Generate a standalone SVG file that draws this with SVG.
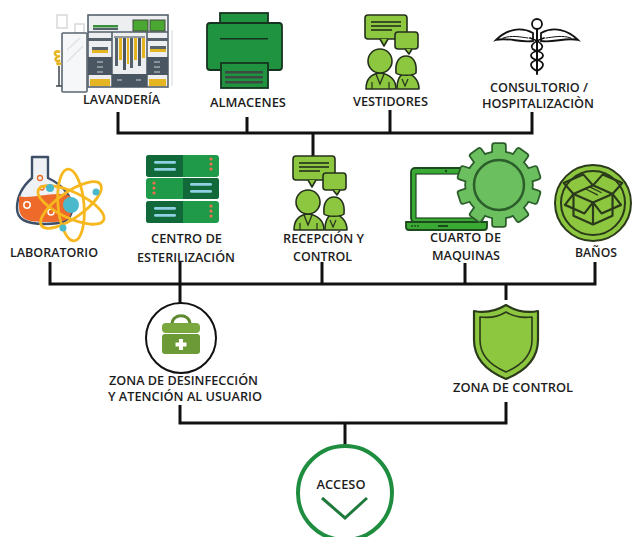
<svg xmlns="http://www.w3.org/2000/svg" xmlns:xlink="http://www.w3.org/1999/xlink" width="634" height="537" viewBox="0 0 634 537">
  <style>
    .lbl { font-family: "Open Sans", "Liberation Sans", sans-serif; font-weight: 600; font-size: 12.5px; fill: #1c1c1c; text-anchor: middle; }
    .wire { fill: none; stroke: #111; stroke-width: 3; stroke-linecap: butt; stroke-linejoin: miter; }
    .ink { stroke: #24301c; stroke-width: 1.6; stroke-linejoin: round; }
    .lime { fill: #8dc63f; }
  </style>
  <defs>
    <!-- two people with speech bubbles -->
    <g id="talk">
      <rect x="365" y="15" width="42" height="24" rx="3" class="lime ink"/>
      <path d="M380,39 L384,46 L388,39" class="lime ink"/>
      <line x1="371" y1="22" x2="401" y2="22" stroke="#24301c" stroke-width="1.6"/>
      <line x1="371" y1="26" x2="401" y2="26" stroke="#24301c" stroke-width="1.6"/>
      <line x1="371" y1="30" x2="392" y2="30" stroke="#24301c" stroke-width="1.6"/>
      <rect x="395" y="32" width="23" height="17" rx="3" class="lime ink"/>
      <path d="M405,49 L409,54 L412,49" class="lime ink"/>
      <!-- woman -->
      <path d="M397,89 C397,80 399,74 406,73 C413,74 419,80 419,89 Z" class="lime ink"/>
      <path d="M396,73 C395,62 399,56 406,56 C413,56 417,62 416,73 C413,76 399,76 396,73 Z" class="lime ink"/>
      <path d="M402,79 L405,86 L408,79" fill="none" stroke="#24301c" stroke-width="1.2"/>
      <!-- man -->
      <path d="M366,89 C366,80 370,74 380,73 C390,74 396,80 396,89 Z" class="lime ink"/>
      <circle cx="380" cy="61" r="12" class="lime ink"/>
      <path d="M376,74 L380,84 L384,74" fill="none" stroke="#24301c" stroke-width="1.3"/>
      <line x1="372" y1="82" x2="372" y2="89" stroke="#24301c" stroke-width="1.2"/>
      <line x1="389" y1="82" x2="389" y2="89" stroke="#24301c" stroke-width="1.2"/>
    </g>
    <!-- gear silhouette -->
    <g id="gearShape">
      <circle cx="0" cy="0" r="33"/>
      <rect x="-6" y="-41" width="12" height="12" rx="1.5" transform="rotate(0)"/>
      <rect x="-6" y="-41" width="12" height="12" rx="1.5" transform="rotate(36)"/>
      <rect x="-6" y="-41" width="12" height="12" rx="1.5" transform="rotate(72)"/>
      <rect x="-6" y="-41" width="12" height="12" rx="1.5" transform="rotate(108)"/>
      <rect x="-6" y="-41" width="12" height="12" rx="1.5" transform="rotate(144)"/>
      <rect x="-6" y="-41" width="12" height="12" rx="1.5" transform="rotate(180)"/>
      <rect x="-6" y="-41" width="12" height="12" rx="1.5" transform="rotate(216)"/>
      <rect x="-6" y="-41" width="12" height="12" rx="1.5" transform="rotate(252)"/>
      <rect x="-6" y="-41" width="12" height="12" rx="1.5" transform="rotate(288)"/>
      <rect x="-6" y="-41" width="12" height="12" rx="1.5" transform="rotate(324)"/>
    </g>
  </defs>

  <rect width="634" height="537" fill="#ffffff"/>

  <!-- connectors -->
  <g id="connectors">
    <path class="wire" d="M118,112 V133 H532 V112"/>
    <path class="wire" d="M247,117 V133"/>
    <path class="wire" d="M390,110 V133"/>
    <path class="wire" d="M313,133 V158"/>
    <path class="wire" d="M50,262 V284 H595 V262"/>
    <path class="wire" d="M180,262 V303"/>
    <path class="wire" d="M322,262 V284"/>
    <path class="wire" d="M465,263 V284"/>
    <path class="wire" d="M506,284 V300"/>
    <path class="wire" d="M180,405 V423 H506 V402"/>
    <path class="wire" d="M345,423 V446"/>
  </g>

  <!-- laundry: wardrobe and mirror -->
  <g id="lavanderia">
    <rect x="57" y="15" width="10" height="13" fill="none" stroke="#d5d8da" stroke-width="1.5"/>
    <rect x="75" y="24" width="9" height="9" fill="none" stroke="#d5d8da" stroke-width="1.5"/>
    <line x1="172" y1="30" x2="172" y2="86" stroke="#e2e4e6" stroke-width="1.5"/>
    <rect x="88" y="15" width="80" height="72" fill="#eceeef" stroke="#56616b" stroke-width="1.6"/>
    <line x1="88" y1="32" x2="168" y2="32" stroke="#56616b" stroke-width="1.6"/>
    <line x1="112" y1="32" x2="112" y2="87" stroke="#56616b" stroke-width="1.6"/>
    <line x1="147" y1="32" x2="147" y2="87" stroke="#56616b" stroke-width="1.6"/>
    <rect x="93" y="25" width="25" height="2.5" fill="#3a8f3a"/>
    <rect x="93" y="28" width="25" height="2" fill="#56616b"/>
    <rect x="133" y="20" width="15" height="11" fill="#4aa832" stroke="#3e4a40" stroke-width="1"/>
    <rect x="150" y="20" width="15" height="11" fill="#4aa832" stroke="#3e4a40" stroke-width="1"/>
    <!-- left column -->
    <rect x="88" y="38" width="24" height="3" fill="#56616b"/>
    <rect x="92" y="47" width="16" height="3" fill="#56616b"/>
    <rect x="92" y="50" width="16" height="3" fill="#e5b521"/>
    <rect x="88" y="57" width="24" height="18" fill="#4a5661"/>
    <line x1="97" y1="62" x2="103" y2="62" stroke="#c9d0d6" stroke-width="1"/>
    <line x1="97" y1="67" x2="103" y2="67" stroke="#c9d0d6" stroke-width="1"/>
    <line x1="97" y1="72" x2="103" y2="72" stroke="#c9d0d6" stroke-width="1"/>
    <rect x="90" y="79" width="20" height="7" fill="#e5b521"/>
    <!-- right column -->
    <rect x="147" y="38" width="21" height="3" fill="#56616b"/>
    <rect x="150" y="46" width="16" height="3" fill="#56616b"/>
    <rect x="150" y="49" width="16" height="3" fill="#e5b521"/>
    <rect x="147" y="57" width="21" height="18" fill="#4a5661"/>
    <line x1="154" y1="62" x2="160" y2="62" stroke="#c9d0d6" stroke-width="1"/>
    <line x1="154" y1="67" x2="160" y2="67" stroke="#c9d0d6" stroke-width="1"/>
    <line x1="154" y1="72" x2="160" y2="72" stroke="#c9d0d6" stroke-width="1"/>
    <rect x="149" y="79" width="17" height="7" fill="#e5b521"/>
    <!-- hanging clothes -->
    <line x1="114" y1="37" x2="145" y2="37" stroke="#56616b" stroke-width="1.2"/>
    <rect x="115" y="38" width="3" height="28" fill="#56616b"/>
    <rect x="119" y="38" width="3" height="22" fill="#e5b521"/>
    <rect x="123" y="38" width="3" height="32" fill="#4a5661"/>
    <rect x="127" y="38" width="2" height="26" fill="#e5b521"/>
    <rect x="130" y="38" width="3" height="30" fill="#56616b"/>
    <rect x="134" y="38" width="3" height="22" fill="#e5b521"/>
    <rect x="138" y="38" width="3" height="28" fill="#4a5661"/>
    <rect x="142" y="38" width="3" height="20" fill="#e5b521"/>
    <rect x="112" y="74" width="35" height="13" fill="#4a5661"/>
    <line x1="117" y1="80" x2="122" y2="80" stroke="#c9d0d6" stroke-width="1"/>
    <line x1="136" y1="80" x2="141" y2="80" stroke="#c9d0d6" stroke-width="1"/>
    <!-- mirror and plant -->
    <rect x="62" y="33" width="25" height="59" rx="1" fill="#f5f7f8" stroke="#5b6670" stroke-width="1.6"/>
    <line x1="67" y1="50" x2="80" y2="38" stroke="#dfe3e6" stroke-width="1.5"/>
    <line x1="67" y1="62" x2="83" y2="46" stroke="#dfe3e6" stroke-width="1.5"/>
    <path d="M60,52 C55,50 53,54 57,56 M60,56 C55,57 54,61 58,61 M60,60 C56,63 57,66 61,63" fill="none" stroke="#e5b521" stroke-width="2.5"/>
    <path d="M59,66 L59,86 M56,86 L62,86" stroke="#3e4850" stroke-width="1.5"/>
  </g>

  <!-- storage: printer -->
  <g id="almacenes">
    <rect x="220" y="13" width="48" height="25" fill="#1f9340" stroke="#16331f" stroke-width="1.8"/>
    <rect x="207" y="23" width="75" height="47" rx="3" fill="#1f9340" stroke="#16331f" stroke-width="1.8"/>
    <rect x="220" y="38" width="48" height="1.5" fill="#16331f"/>
    <rect x="221" y="63" width="47" height="25" fill="#1f9340" stroke="#16331f" stroke-width="1.8"/>
    <rect x="225" y="71" width="38" height="2.5" fill="#3d4a42"/>
    <rect x="225" y="76" width="38" height="2.5" fill="#3d4a42"/>
    <rect x="225" y="81" width="38" height="2.5" fill="#3d4a42"/>
  </g>

  <!-- changing rooms -->
  <g id="vestidores">
    <use xlink:href="#talk"/>
  </g>

  <!-- consulting: caduceus -->
  <g id="consultorio" fill="none" stroke="#111" stroke-width="1.8" stroke-linecap="round">
    <line x1="537" y1="29" x2="537" y2="74" stroke-width="2"/>
    <circle cx="537" cy="24" r="5" fill="#fff"/>
    <path d="M533,33 C520,26 506,30 496,40 C508,37 520,43 533,41 Z" fill="#fff"/>
    <path d="M541,33 C554,26 568,30 578,40 C566,37 554,43 541,41 Z" fill="#fff"/>
    <path d="M503,38 C512,35 520,37 528,38" stroke-width="1"/>
    <path d="M571,38 C562,35 554,37 546,38" stroke-width="1"/>
    <path d="M530,38 C545,43 545,49 537,51 C529,53 529,58 537,60 C545,62 545,67 537,71"/>
    <path d="M544,38 C529,43 529,49 537,51 C545,53 545,58 537,60 C529,62 529,67 537,71"/>
  </g>

  <!-- laboratory -->
  <g id="laboratorio">
    <path d="M32,157 L48,157 L48,178 C63,185 73,197 72,210 C71,221 62,224 45,224 C25,224 17,219 17,208 C17,195 24,185 32,178 Z" fill="#eef2f5" stroke="#3e5068" stroke-width="2.4" stroke-linejoin="round"/>
    <path d="M19,196 C30,200 55,190 70,196 C72,205 72,214 69,218 C65,222 58,222 45,222 C27,222 20,219 19,208 Z" fill="#ee6a2a"/>
    <circle cx="27" cy="205" r="3.2" fill="none" stroke="#fff" stroke-width="1.5"/>
    <circle cx="51" cy="212" r="3" fill="none" stroke="#fff" stroke-width="1.5"/>
    <circle cx="40" cy="178" r="2.5" fill="none" stroke="#ee6a2a" stroke-width="1.3"/>
    <circle cx="42" cy="188" r="2" fill="none" stroke="#ee6a2a" stroke-width="1.3"/>
    <g fill="none" stroke="#f7b71e" stroke-width="2.8">
      <ellipse cx="71" cy="205" rx="36" ry="13" transform="rotate(25 71 205)"/>
      <ellipse cx="71" cy="205" rx="36" ry="13" transform="rotate(85 71 205)"/>
      <ellipse cx="71" cy="205" rx="36" ry="13" transform="rotate(145 71 205)"/>
    </g>
    <circle cx="71" cy="205" r="8" fill="#4bb9cc"/>
    <circle cx="50" cy="188" r="4" fill="#4bb9cc"/>
    <circle cx="96" cy="192" r="3.5" fill="#4bb9cc"/>
    <circle cx="63" cy="228" r="3.5" fill="#4bb9cc"/>
  </g>

  <!-- sterilization: server rack -->
  <g id="esterilizacion">
    <rect x="146" y="155" width="73" height="22" rx="3" fill="#1f9a48"/>
    <path d="M149,155 H183 V177 H149 A3,3 0 0 1 146,174 V158 A3,3 0 0 1 149,155 Z" fill="#11693a"/>
    <rect x="154" y="161" width="22" height="2.8" rx="1.4" fill="#8fd0e2"/>
    <rect x="154" y="168" width="22" height="2.8" rx="1.4" fill="#8fd0e2"/>
    <circle cx="211" cy="159" r="1.6" fill="#f0714f"/><circle cx="211" cy="164" r="1.6" fill="#f0714f"/><circle cx="211" cy="169" r="1.6" fill="#f0714f"/>
    <rect x="146" y="178" width="73" height="21" rx="3" fill="#1f9a48"/>
    <path d="M183,178 H216 A3,3 0 0 1 219,181 V196 A3,3 0 0 1 216,199 H183 Z" fill="#11693a"/>
    <rect x="190" y="183" width="22" height="2.8" rx="1.4" fill="#8fd0e2"/>
    <rect x="190" y="190" width="22" height="2.8" rx="1.4" fill="#8fd0e2"/>
    <circle cx="154" cy="183" r="1.6" fill="#f0714f"/><circle cx="154" cy="188" r="1.6" fill="#f0714f"/><circle cx="154" cy="193" r="1.6" fill="#f0714f"/>
    <rect x="146" y="201" width="73" height="22" rx="3" fill="#1f9a48"/>
    <path d="M149,201 H183 V223 H149 A3,3 0 0 1 146,220 V204 A3,3 0 0 1 149,201 Z" fill="#11693a"/>
    <rect x="154" y="207" width="22" height="2.8" rx="1.4" fill="#8fd0e2"/>
    <rect x="154" y="214" width="22" height="2.8" rx="1.4" fill="#8fd0e2"/>
    <circle cx="211" cy="206" r="1.6" fill="#f0714f"/><circle cx="211" cy="211" r="1.6" fill="#f0714f"/><circle cx="211" cy="216" r="1.6" fill="#f0714f"/>
  </g>

  <!-- reception -->
  <g id="recepcion">
    <use xlink:href="#talk" transform="translate(-72,141)"/>
  </g>

  <!-- machine room: laptop and gear -->
  <g id="maquinas">
    <rect x="411" y="168" width="72" height="54" rx="4" fill="#3aaa35" stroke="#1d4a1d" stroke-width="1.8"/>
    <rect x="416" y="174" width="62" height="44" fill="#ffffff" stroke="#1d4a1d" stroke-width="1.2"/>
    <circle cx="446" cy="171" r="1.2" fill="#1d4a1d"/>
    <path d="M406,222 H487 V227 A3,3 0 0 1 484,230 H409 A3,3 0 0 1 406,227 Z" fill="#3aaa35" stroke="#1d4a1d" stroke-width="1.8"/>
    <circle cx="412" cy="226" r="0.9" fill="#1d4a1d"/><circle cx="415" cy="226" r="0.9" fill="#1d4a1d"/><circle cx="418" cy="226" r="0.9" fill="#1d4a1d"/>
    <rect x="438" y="225" width="10" height="2" fill="#1d4a1d"/>
    <g transform="translate(499,185)">
      <use xlink:href="#gearShape" fill="#2b5e2b" stroke="#2b5e2b" stroke-width="3.5"/>
      <use xlink:href="#gearShape" fill="#6cbf5f"/>
      <circle cx="0" cy="0" r="25" fill="#6cbf5f" stroke="#2b5e2b" stroke-width="2.5"/>
    </g>
  </g>

  <!-- washrooms -->
  <g id="banos">
    <circle cx="593" cy="203" r="38" fill="#8dc63f" stroke="#2a3a1a" stroke-width="2"/>
    <circle cx="593" cy="203" r="32" fill="none" stroke="#2a3a1a" stroke-width="2"/>
    <g fill="none" stroke="#2a3a1a" stroke-width="1.8" stroke-linejoin="round" transform="translate(593,200) scale(1.22) translate(-593,-200)">
      <path d="M577,195 L593,188 L609,195 L593,202 Z"/>
      <path d="M577,195 V213 L593,220 L609,213 V195"/>
      <path d="M593,202 V220"/>
      <path d="M577,195 L569,186 L585,179 L593,188 L601,179 L617,186 L609,195"/>
      <path d="M577,195 L570,204 L586,211 L593,202 L600,211 L616,204 L609,195"/>
      <path d="M587,191 L597,196 M590,189 L600,194" stroke-width="1"/>
    </g>
  </g>

  <!-- disinfection and user care -->
  <g id="desinfeccion">
    <circle cx="181" cy="338" r="35" fill="#ffffff" stroke="#111" stroke-width="2"/>
    <path d="M172,324 C172,313 190,313 190,324" fill="none" stroke="#5f8a2f" stroke-width="3"/>
    <rect x="162" y="323" width="38" height="10" rx="4" fill="#7aa83f"/>
    <rect x="162" y="334" width="38" height="20" rx="3" fill="#6b9a36"/>
    <rect x="179" y="339" width="4" height="11" fill="#fff"/>
    <rect x="175.5" y="342.5" width="11" height="4" fill="#fff"/>
  </g>

  <!-- control zone: shield -->
  <g id="control">
    <path d="M506,305 C516,311 528,313 538,311 L538,340 C538,360 523,372 506,379 C489,372 474,360 474,340 L474,311 C484,313 496,311 506,305 Z" fill="#8dc63f" stroke="#2a3a1a" stroke-width="2.2" stroke-linejoin="round"/>
    <path d="M506,312 C514,317 524,318 532,317 L532,340 C532,356 520,366 506,372 C492,366 480,356 480,340 L480,317 C488,318 498,317 506,312 Z" fill="none" stroke="#2a3a1a" stroke-width="1.6" stroke-linejoin="round"/>
  </g>

  <!-- access -->
  <g id="acceso">
    <circle cx="345" cy="493" r="47" fill="#ffffff" stroke="#1f8d3f" stroke-width="4"/>
    <path d="M322,498 L345,518 L367,498" fill="none" stroke="#1f7a3c" stroke-width="3"/>
    <text class="lbl" x="341" y="489" textLength="49" lengthAdjust="spacingAndGlyphs">ACCESO</text>
  </g>

  <!-- labels -->
  <g id="labels">
    <text class="lbl" x="121.5" y="104" textLength="77" lengthAdjust="spacingAndGlyphs">LAVANDERÍA</text>
    <text class="lbl" x="248" y="107" textLength="76" lengthAdjust="spacingAndGlyphs">ALMACENES</text>
    <text class="lbl" x="390.5" y="106" textLength="75" lengthAdjust="spacingAndGlyphs">VESTIDORES</text>
    <text class="lbl" x="539" y="92" textLength="98" lengthAdjust="spacingAndGlyphs">CONSULTORIO /</text>
    <text class="lbl" x="538" y="108" textLength="112" lengthAdjust="spacingAndGlyphs">HOSPITALIZACIÒN</text>
    <text class="lbl" x="54" y="257" textLength="88" lengthAdjust="spacingAndGlyphs">LABORATORIO</text>
    <text class="lbl" x="186.5" y="243" textLength="71" lengthAdjust="spacingAndGlyphs">CENTRO DE</text>
    <text class="lbl" x="186" y="262" textLength="98" lengthAdjust="spacingAndGlyphs">ESTERILIZACIÓN</text>
    <text class="lbl" x="323.5" y="243" textLength="81" lengthAdjust="spacingAndGlyphs">RECEPCIÓN Y</text>
    <text class="lbl" x="322.5" y="261" textLength="59" lengthAdjust="spacingAndGlyphs">CONTROL</text>
    <text class="lbl" x="465.5" y="242" textLength="71" lengthAdjust="spacingAndGlyphs">CUARTO DE</text>
    <text class="lbl" x="466" y="260" textLength="68" lengthAdjust="spacingAndGlyphs">MAQUINAS</text>
    <text class="lbl" x="596" y="257" textLength="42" lengthAdjust="spacingAndGlyphs">BAÑOS</text>
    <text class="lbl" x="183.5" y="385" textLength="149" lengthAdjust="spacingAndGlyphs">ZONA DE DESINFECCIÓN</text>
    <text class="lbl" x="185" y="401" textLength="154" lengthAdjust="spacingAndGlyphs">Y ATENCIÓN AL USUARIO</text>
    <text class="lbl" x="513" y="392" textLength="120" lengthAdjust="spacingAndGlyphs">ZONA DE CONTROL</text>
  </g>
</svg>
